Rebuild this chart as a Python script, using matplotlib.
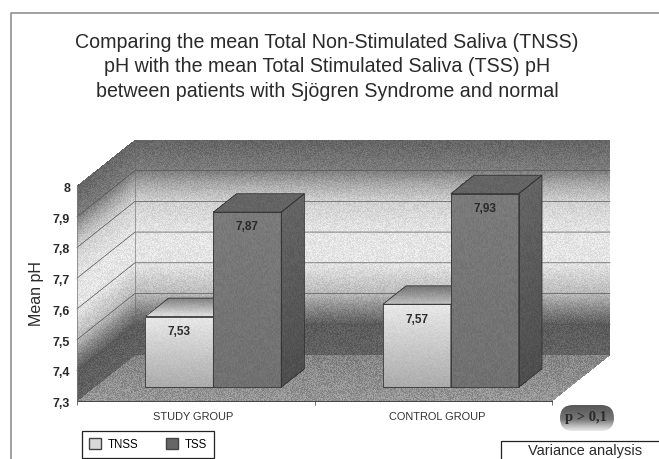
import numpy as np
import matplotlib
matplotlib.use("Agg")
import matplotlib.pyplot as plt
from matplotlib.patches import Patch, Polygon, Rectangle, FancyBboxPatch
from matplotlib.transforms import ScaledTranslation

plt.rcParams['font.family'] = ['Liberation Sans', 'DejaVu Sans']

groups = ["STUDY GROUP", "CONTROL GROUP"]
series = ["TNSS", "TSS"]
tnss = [7.53, 7.57]
tss = [7.87, 7.93]
yticks = [7.3, 7.4, 7.5, 7.6, 7.7, 7.8, 7.9, 8.0]
ytick_labels = ["7,3", "7,4", "7,5", "7,6", "7,7", "7,8", "7,9", "8"]
title = ("Comparing the mean Total Non-Stimulated Saliva (TNSS)\n"
         "pH with the mean Total Stimulated Saliva (TSS) pH\n"
         "between patients with Sjögren Syndrome and normal")

# fake 3d: depth z=1 is the back wall, offsets are in data units
DX = 0.244
DY = 0.15
Z0, Z1 = 0.30, 0.70
BAR_LEFT = 0.215
BAR_W = 0.286
LABEL_X = [0.49, 1.516]

# grey level of the wall banding against pH
band_v = [7.3, 7.4, 7.45, 7.5, 7.6, 7.7, 7.8, 7.86, 7.9, 8.0]
band_g = [98, 92, 135, 185, 228, 228, 208, 165, 125, 100]


def grain(shape, amp):
  i, j = np.indices(shape)
  f = np.sin(i * 12.9898 + j * 78.233 + i * j * 0.137) * 43758.5453
  return (f - np.floor(f) - 0.5) * 2 * amp


def shade(ax, p0, p1, p2, p3, level, amp=14, z=1, n=(100, 70)):
  # p0-p1 bottom edge, p3-p2 top edge, level(t) gives grey for t in 0..1 going up
  s = np.linspace(0, 1, n[1] + 1)[None, :]
  t = np.linspace(0, 1, n[0] + 1)[:, None]
  p0, p1, p2, p3 = map(np.array, (p0, p1, p2, p3))
  X = (1 - t) * ((1 - s) * p0[0] + s * p1[0]) + t * ((1 - s) * p3[0] + s * p2[0])
  Y = (1 - t) * ((1 - s) * p0[1] + s * p1[1]) + t * ((1 - s) * p3[1] + s * p2[1])
  tc = (t[:-1] + t[1:]) / 2
  C = level(tc) * np.ones((n[0], n[1])) + grain((n[0], n[1]), amp)
  ax.pcolormesh(X, Y, C, cmap="gray", vmin=0, vmax=255, shading="flat",
                zorder=z, clip_on=False, rasterized=True)


def wall_level(t):
  return np.interp(7.3 + 0.7 * t, band_v, band_g)


def ramp(a, b):
  return lambda t: a + (b - a) * t


def outline(ax, pts, z, color="#333333", lw=0.6):
  ax.add_patch(Polygon(pts, closed=True, fill=False, ec=color, lw=lw, zorder=z, clip_on=False))


def bar(ax, x, val, front, top, side, z):
  x0, x1 = x, x + BAR_W
  base = 7.3
  f = [(x0 + Z0 * DX, base + Z0 * DY), (x1 + Z0 * DX, base + Z0 * DY),
       (x1 + Z0 * DX, val + Z0 * DY), (x0 + Z0 * DX, val + Z0 * DY)]
  t = [f[3], f[2], (x1 + Z1 * DX, val + Z1 * DY), (x0 + Z1 * DX, val + Z1 * DY)]
  r = [f[1], (x1 + Z1 * DX, base + Z1 * DY), (x1 + Z1 * DX, val + Z1 * DY), f[2]]
  shade(ax, *r, side, amp=6, z=z, n=(100, 24))
  shade(ax, *t, top, amp=6, z=z, n=(18, 70))
  shade(ax, *f, front, amp=6, z=z + 0.1, n=(100, 68))
  outline(ax, r, z + 0.2)
  outline(ax, t, z + 0.2)
  outline(ax, f, z + 0.2)
  ax.text((x0 + x1) / 2 + Z0 * DX, val + Z0 * DY - 0.05, ("%.2f" % val).replace(".", ","),
          ha="center", va="center", fontsize=8.5, fontweight="bold", color="#2a2a2a", zorder=z + 0.3)


fig = plt.figure(figsize=(6.59, 4.59), dpi=100, facecolor="white")

# page bits in pixel coordinates
ov = fig.add_axes([0, 0, 1, 1], zorder=0)
ov.axis("off")
ov.plot([659, 10.5, 10.5], [12.5, 12.5, 459], color="#888888", lw=1.1)
ov.text(327, 67, title, ha="center", va="center", fontsize=14.15, linespacing=1.36, color="#2a2a2a")
ov.add_patch(Rectangle((500.5, 441), 170, 30, fc="white", ec="#222222", lw=0.9))
ov.text(585, 451.5, "Variance analysis", ha="center", va="center", fontsize=10.5, color="#2a2a2a")

pill = FancyBboxPatch((560, 405), 54, 26, boxstyle="round,pad=0,rounding_size=13", fc="none", ec="none")
ov.add_patch(pill)
img = ov.imshow(np.interp(np.linspace(0, 1, 30), [0, 0.55, 0.8, 1], [85, 120, 190, 240])[:, None],
                cmap="gray", vmin=0, vmax=255, extent=(558, 616, 432, 404), aspect="auto")
img.set_clip_path(pill)
ov.set_xlim(0, 659)
ov.set_ylim(459, 0)
ov.text(586, 418, "p > 0,1", ha="center", va="center", fontsize=10.5, fontweight="bold",
        family="Liberation Serif", color="#2a2a2a")

# front plane of the chart, everything else is pushed back from it
ax = fig.add_axes([77 / 659, (459 - 401) / 459, 475 / 659, 215 / 459], zorder=1)
ax.patch.set_alpha(0)
ax.set_xlim(0, len(groups))
ax.set_ylim(yticks[0], yticks[-1])
for sp in ax.spines.values():
  sp.set_visible(False)

lo, hi = yticks[0], yticks[-1]
n = len(groups)
shade(ax, (DX, lo + DY), (n + DX, lo + DY), (n + DX, hi + DY), (DX, hi + DY), wall_level, z=1, n=(215, 475))
shade(ax, (0, lo), (n, lo), (n + DX, lo + DY), (DX, lo + DY), ramp(150, 132), amp=22, z=1.1, n=(46, 475))
shade(ax, (0, lo), (DX, lo + DY), (DX, hi + DY), (0, hi), wall_level, z=1.2, n=(215, 58))

for v in yticks[1:-1]:
  ax.plot([0, DX, n + DX], [v, v + DY, v + DY], color="#555555", lw=0.5, zorder=1.5, clip_on=False)
ax.plot([DX, DX], [lo + DY, hi + DY], color="#666666", lw=0.4, zorder=1.5, clip_on=False)
ax.plot([0, n], [lo, lo], color="#444444", lw=0.7, zorder=1.6, clip_on=False)
ax.plot([0, 0], [lo, hi], color="#777777", lw=0.5, zorder=1.6, clip_on=False)

for i in range(n):
  bar(ax, i + BAR_LEFT + BAR_W, tss[i], ramp(112, 122), ramp(100, 100), ramp(78, 100), 3)
  if i == 0:
    top = ramp(225, 125)
  else:
    top = ramp(190, 115)
  bar(ax, i + BAR_LEFT, tnss[i], ramp(170, 232), top, ramp(100, 100), 2)

ax.set_yticks(yticks)
ax.set_yticklabels(ytick_labels, fontsize=9, fontweight="bold", color="#2a2a2a")
ax.tick_params(axis="y", length=0, pad=5)
shift = ScaledTranslation(0, -1.5 / 100, fig.dpi_scale_trans)
for lab in ax.get_yticklabels():
  lab.set_transform(lab.get_transform() + shift)
ax.set_xticks(range(n + 1))
ax.set_xticklabels([])
ax.tick_params(axis="x", length=3, width=0.6, color="#555555")
ax.set_xticks(LABEL_X, minor=True)
ax.set_xticklabels(groups, minor=True, fontsize=7.9, color="#333333")
ax.tick_params(axis="x", which="minor", length=0, pad=8)
ax.set_ylabel("Mean pH", fontsize=11.5, color="#2a2a2a", labelpad=6)

handles = [Patch(fc="#d8d8d8", ec="#444444", label=series[0]),
           Patch(fc="#666666", ec="#444444", label=series[1])]
leg = fig.legend(handles=handles, loc="lower left", bbox_to_anchor=(82 / 659, 0.002), ncols=2,
                 fontsize=8.3, fancybox=False, edgecolor="#222222", framealpha=1,
                 handlelength=1, handleheight=1, columnspacing=2.4, borderpad=0.65, handletextpad=0.6,
                 borderaxespad=0)
leg.get_frame().set_linewidth(0.9)

fig.savefig("out.png", dpi=100)
